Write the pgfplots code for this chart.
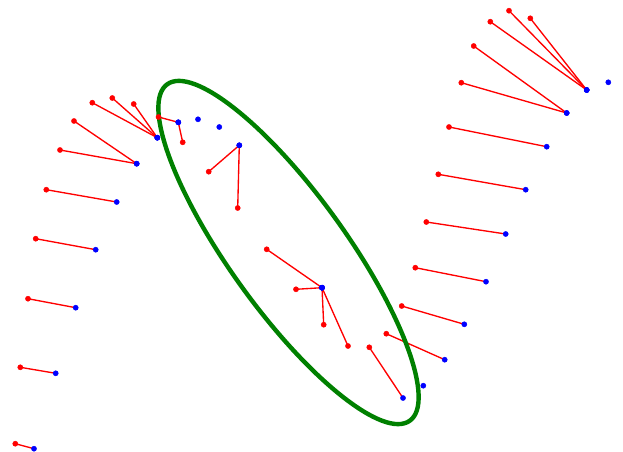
\documentclass[border=0pt]{standalone}
\usepackage{pgfplots}
\usepackage{pgfplotstable}
\pgfplotsset{compat=1.18}

% Each row joins a red point (rx,ry) to the blue point (bx,by) it is matched with.
\pgfplotstableread{
rx     ry     bx     by
15.3   443.7  34.0   448.7
20.3   367.3  55.7   373.3
28.0   298.7  75.7   307.7
35.7   238.7  95.7   249.7
46.3   189.7  116.7  202.0
60.0   150.0  136.7  163.7
74.0   121.0  136.7  163.7
92.3   102.7  157.3  137.7
112.3  98.0   157.3  137.7
133.7  104.0  157.3  137.7
158.5  117.0  178.3  122.3
182.7  142.3  178.3  122.3
208.7  171.7  239.3  145.3
237.7  208.0  239.3  145.3
266.7  249.3  322.0  287.7
296.0  289.3  322.0  287.7
323.7  324.7  322.0  287.7
348.0  346.0  322.0  287.7
369.3  347.3  403.0  398.0
386.3  333.7  444.7  359.7
401.7  306.0  464.3  324.3
415.3  267.7  486.0  281.7
426.3  222.0  505.7  234.0
438.3  174.3  525.7  189.7
449.0  127.0  546.7  146.7
461.3  82.7   566.7  113.0
473.7  46.0   566.7  113.0
490.3  21.7   586.7  90.0
509.0  10.7   586.7  90.0
530.3  18.3   586.7  90.0
}\pairs

% Blue points without a matched red point
\pgfplotstableread{
x      y
198.0  119.3
219.3  127.0
423.3  385.7
608.3  82.3
}\lonely

\begin{document}
\begin{tikzpicture}
\begin{axis}[
  scale only axis,
  width=623bp, height=452bp,
  xmin=0, xmax=623, ymin=0, ymax=452,
  y dir=reverse,
  hide axis,
  clip=false,
]
% keep the full plotting area as the picture's extent
\path (rel axis cs:0,0) rectangle (rel axis cs:1,1);
% blue points
\addplot[only marks, mark=*, mark size=2.6pt, draw=blue, fill=blue]
  table[x=bx, y=by] {\pairs};
\addplot[only marks, mark=*, mark size=2.6pt, draw=blue, fill=blue]
  table[x=x, y=y] {\lonely};
% red connecting segments
\addplot[red, line width=1.35pt, no marks,
  quiver={u=\thisrow{bx}-\thisrow{rx}, v=\thisrow{by}-\thisrow{ry}}]
  table[x=rx, y=ry] {\pairs};
% red points
\addplot[only marks, mark=*, mark size=2.6pt, draw=red, fill=red]
  table[x=rx, y=ry] {\pairs};
% highlighted cluster
\draw[color={rgb,1:red,0;green,0.5;blue,0}, line width=4.4bp]
  (axis cs:288.5,252.5) ellipse[x radius=207.4bp, y radius=58bp, rotate=-54.2];
\end{axis}
\end{tikzpicture}
\end{document}
